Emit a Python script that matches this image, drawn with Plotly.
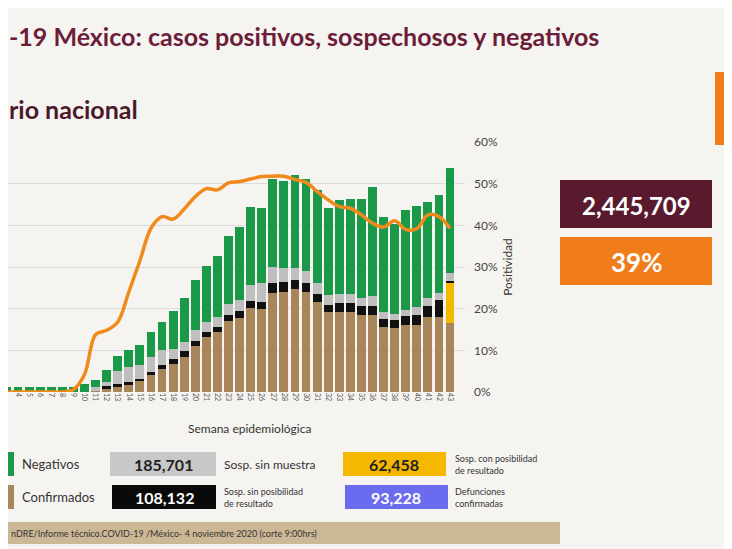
import plotly.graph_objects as go

weeks = list(range(2, 44))
confirmados = [0,0,0,0,0,0,0,0,0,0.3,0.8,1.2,1.8,2.6,4.0,5.5,6.8,8.4,11.1,13.2,14.4,17.1,17.8,20.2,19.9,23.7,23.9,24.7,24.1,21.7,19.1,19.1,19.1,18.4,18.4,15.6,15.4,16.0,16.2,17.9,17.9,16.6]
sosp_con = [0]*41 + [9.5]
sosp_sin_pos = [0,0,0,0,0,0,0,0,0,0,0.6,0.8,0.6,0.6,0.8,0.9,1.1,1.5,1.2,1.2,1.2,1.3,1.6,1.6,1.8,2.4,2.4,2.2,2.0,1.8,1.7,2.2,2.2,2.2,2.2,1.9,1.8,2.3,2.4,2.8,4.2,0.5]
sosp_sin_muestra = [0,0,0,0,0,0,0,0,0,0.9,1.0,3.1,3.5,3.4,3.6,3.6,2.5,2.1,2.5,2.4,2.4,2.7,2.8,3.9,4.5,4.0,3.4,2.9,3.0,2.7,2.5,2.2,2.2,1.9,2.4,1.6,1.6,1.5,1.8,1.8,1.7,2.0]
negativos = [1.0,1.3,1.3,1.3,1.3,1.3,1.3,1.2,2.0,1.6,2.8,3.6,4.3,4.8,6.0,6.8,9.0,10.5,12.2,13.4,14.7,16.3,17.3,18.8,17.9,21.0,21.0,22.2,22.0,22.3,20.8,22.5,22.9,23.9,26.2,22.8,21.5,23.9,24.3,23.2,23.5,25.1]
positividad = [0,0,0,0,0,0,0,0.6,4.2,13.8,14.8,16.8,24.0,31.5,39.3,42.1,41.5,43.9,46.9,48.8,48.5,50.2,50.5,51.1,51.7,51.8,51.8,51.0,50.3,48.1,46.1,44.5,44.1,42.5,40.5,39.6,41.1,39.0,39.2,42.5,42.1,39.3]

W, H = 732, 549
OFF = 8  # page margin compensation
def px(x): return (x - OFF) / W
def py(y): return 1 - (y - OFF) / H

fig = go.Figure()
series = [("Confirmados", confirmados, "#a8865a"),
          ("Sosp. con posibilidad de resultado", sosp_con, "#f5b800"),
          ("Sosp. sin posibilidad de resultado", sosp_sin_pos, "#111111"),
          ("Sosp. sin muestra", sosp_sin_muestra, "#bfbfbf"),
          ("Negativos", negativos, "#1a9a48")]
for name, vals, col in series:
    fig.add_bar(x=weeks, y=vals, name=name, marker_color=col, marker_line_width=0, width=0.8)
fig.add_scatter(x=weeks, y=positividad, mode="lines", line=dict(color="#f08a1c", width=3.5, shape="spline"), yaxis="y2", name="Positividad")

x_left = 2.37 + OFF / 11.07
fig.update_layout(
    width=W, height=H, margin=dict(l=0, r=0, t=0, b=0, autoexpand=False), barmode="stack",
    paper_bgcolor="#f6f4f0", plot_bgcolor="rgba(0,0,0,0)", showlegend=False,
    font=dict(family="Lato, Open Sans, sans-serif"),
    xaxis=dict(domain=[0, px(465)], range=[x_left, 44.35], tickmode="array", tickvals=weeks,
               ticktext=[str(w) for w in weeks], tickangle=90, tickfont=dict(size=7, color="#555"),
               showgrid=False, zeroline=False, automargin=False),
    yaxis=dict(domain=[py(392), py(142)], range=[0, 60], visible=False, automargin=False),
    yaxis2=dict(overlaying="y", side="right", range=[0, 60], tickvals=[0,10,20,30,40,50,60],
                ticktext=["0%","10%","20%","30%","40%","50%","60%"], tickfont=dict(size=12, color="#444"),
                showgrid=True, gridcolor="#dcdcdc", zeroline=False, anchor="x", ticklabelstandoff=8,
                automargin=False,
                title=dict(text="Positividad", font=dict(size=12, color="#333"), standoff=6)),
)

anns = []
def txt(x, y, t, size, color="#333", bold=False, xanchor="left"):
    anns.append(dict(x=px(x), y=py(y), xref="paper", yref="paper", text=f"<b>{t}</b>" if bold else t,
                     showarrow=False, xanchor=xanchor, yanchor="middle", font=dict(size=size, color=color), align="left"))
shapes = []
def box(x0, y0, x1, y1, col):
    shapes.append(dict(type="rect", xref="paper", yref="paper", x0=px(x0), x1=px(x1), y0=py(y1), y1=py(y0),
                       fillcolor=col, line_width=0, layer="below"))

txt(7, 36, "-19 México: casos positivos, sospechosos y negativos", 25, "#6b1d3a", True)
txt(7, 109, "rio nacional", 25, "#4a1a2a", True)
txt(250, 428, "Semana epidemiológica", 12, "#333", xanchor="center")

box(715, 72, 740, 145, "#f07d1a")
box(560, 180, 712, 228, "#5a1a2e")
txt(636, 205, "2,445,709", 24, "white", True, "center")
box(560, 237, 712, 285, "#f07d1a")
txt(636, 262, "39%", 26, "white", True, "center")

box(8, 452, 14, 476, "#1a9a48"); txt(20, 464, "Negativos", 13)
box(8, 485, 14, 509, "#a8865a"); txt(20, 497, "Confirmados", 13)
box(110, 452, 216, 476, "#c8c8c8"); txt(163, 464, "185,701", 16, "#222", True, "center")
txt(222, 464, "Sosp. sin muestra", 12)
box(112, 485, 216, 509, "#0a0a0a"); txt(164, 497, "108,132", 16, "white", True, "center")
txt(222, 497, "Sosp. sin posibilidad<br>de resultado", 9)
box(343, 452, 446, 476, "#f5b800"); txt(394, 464, "62,458", 16, "#222", True, "center")
txt(453, 464, "Sosp. con posibilidad<br>de resultado", 9)
box(345, 485, 448, 509, "#6b6bef"); txt(396, 497, "93,228", 16, "white", True, "center")
txt(453, 497, "Defunciones<br>confirmadas", 9)

box(8, 522, 560, 544, "#cdb896")
txt(9, 533, "nDRE/Informe técnico.COVID-19 /México- 4 noviembre 2020 (corte 9:00hrs)", 9, "#333")

fig.update_layout(annotations=anns, shapes=shapes)
fig.write_html("out.html")
